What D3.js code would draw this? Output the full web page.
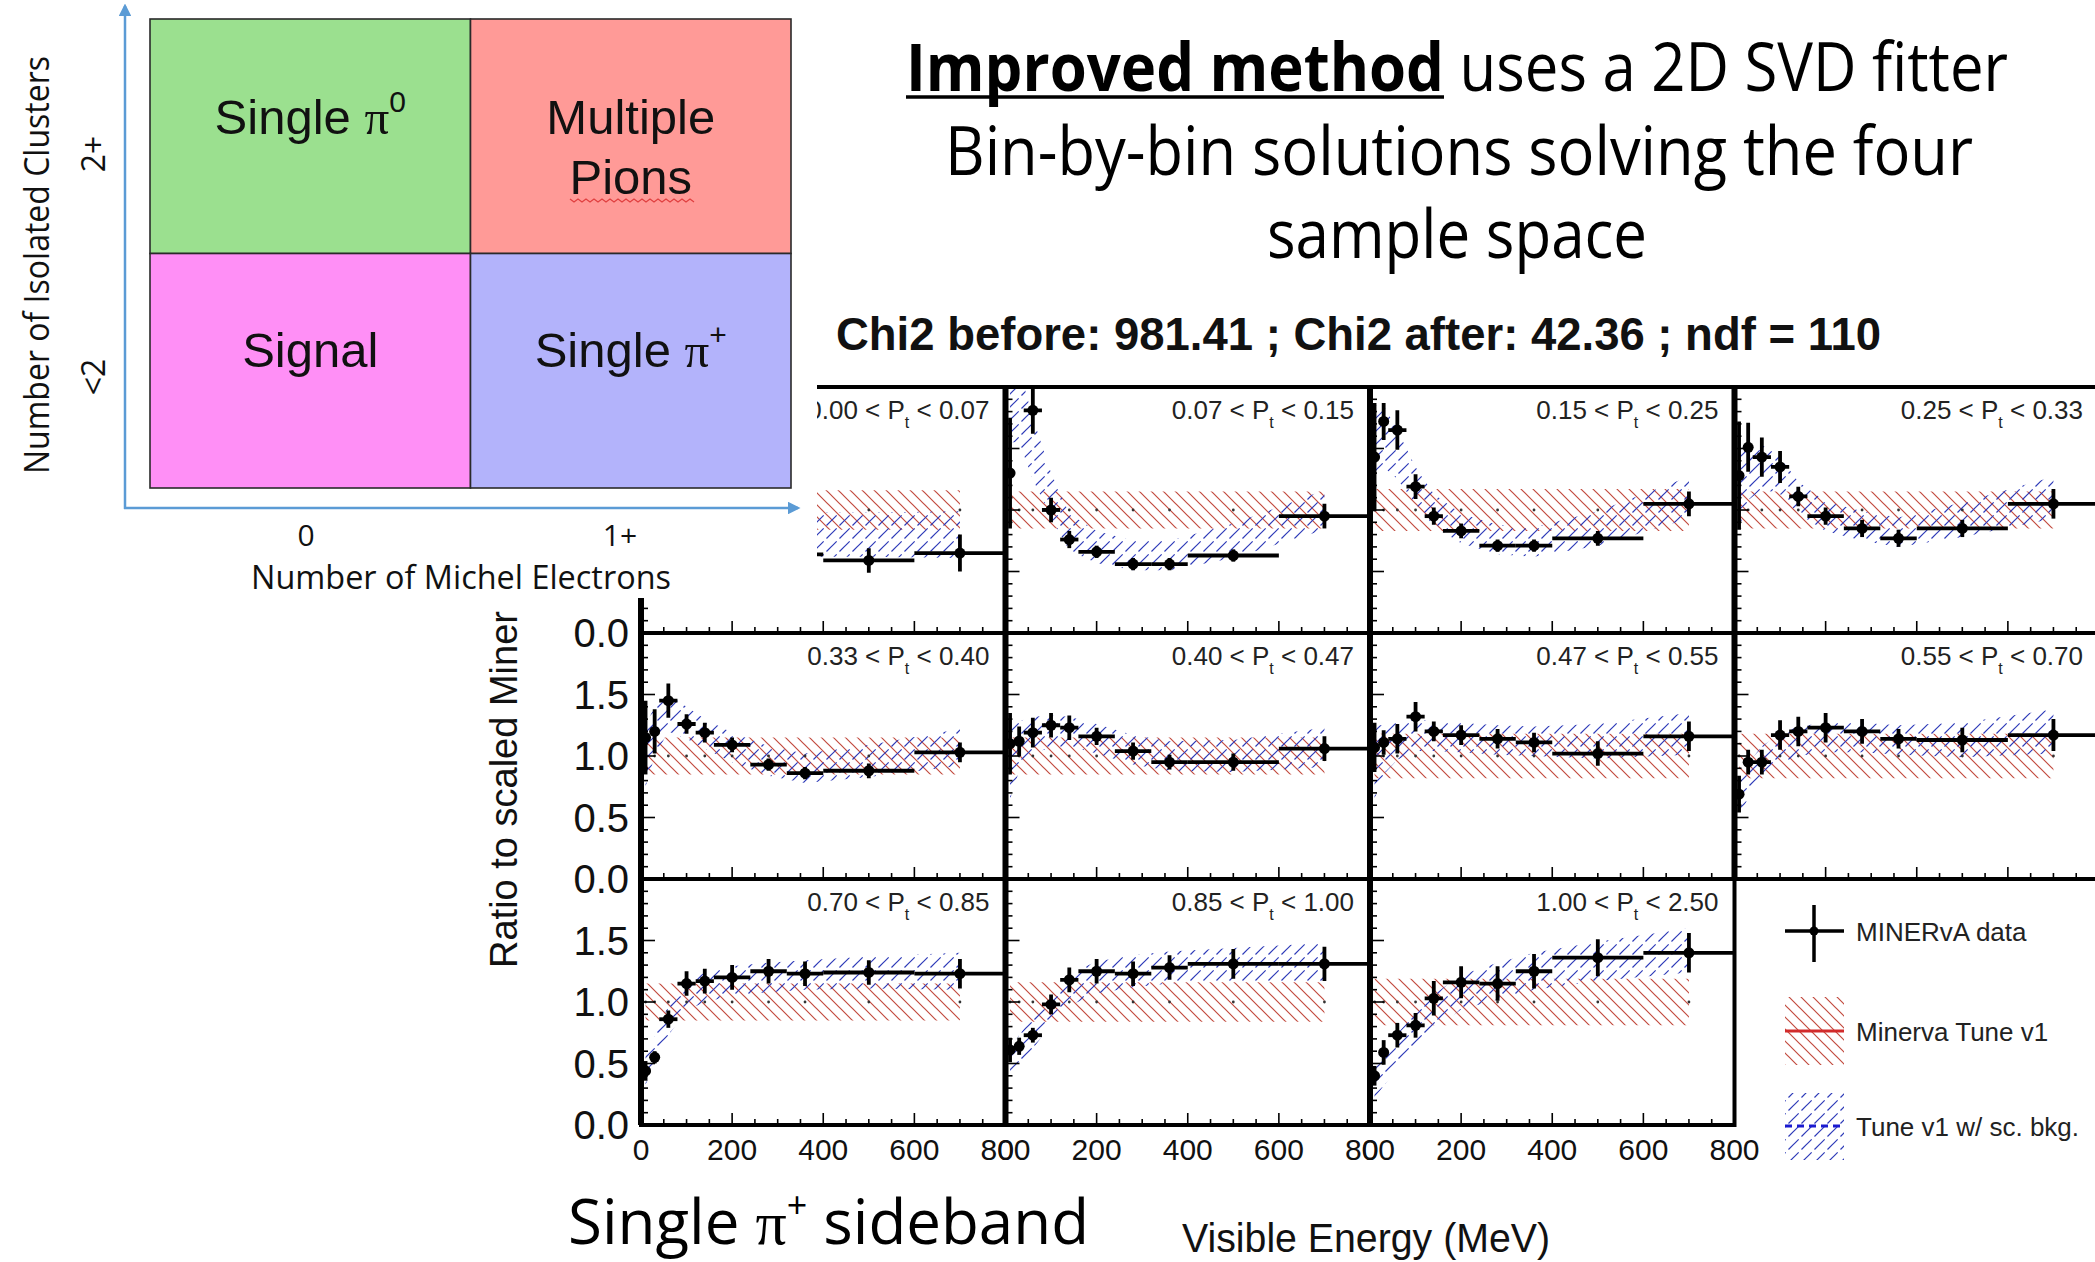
<!DOCTYPE html>
<html><head><meta charset="utf-8">
<script src="https://cdn.jsdelivr.net/npm/d3@7"></script>
<style>body{margin:0;background:#fff}svg{display:block}</style>
</head><body>
<svg id="c" width="2095" height="1262"></svg>
<script>
// ---------------- DATA ----------------
const energyBinEdges = [0,20,40,80,120,160,240,320,400,600,800];
const energyBinCenters = [10,30,60,100,140,200,280,360,500,700];
const ptBinEdges = ["0.00","0.07","0.15","0.25","0.33","0.40","0.47","0.55","0.70","0.85","1.00","2.50"];
const dataRatio = [
 [1.20,1.90,1.50,1.00,0.80,0.70,0.65,0.64,0.59,0.65],
 [1.30,2.60,1.81,1.00,0.76,0.66,0.56,0.56,0.63,0.95],
 [1.43,1.72,1.65,1.19,0.95,0.83,0.71,0.71,0.77,1.05],
 [1.28,1.51,1.43,1.35,1.11,0.95,0.85,0.77,0.85,1.05],
 [1.15,1.20,1.45,1.26,1.19,1.09,0.93,0.86,0.88,1.03],
 [1.10,1.12,1.19,1.25,1.23,1.16,1.04,0.95,0.95,1.06],
 [1.07,1.11,1.14,1.32,1.20,1.17,1.14,1.11,1.02,1.16],
 [0.69,0.95,0.95,1.17,1.20,1.23,1.20,1.14,1.13,1.17],
 [0.44,0.55,0.86,1.15,1.17,1.20,1.25,1.23,1.24,1.23],
 [0.61,0.64,0.73,0.98,1.18,1.25,1.23,1.28,1.31,1.31],
 [0.40,0.59,0.73,0.81,1.03,1.16,1.15,1.25,1.36,1.40]
];
const dataError = [
 [0.40,0.30,0.20,0.10,0.08,0.06,0.06,0.06,0.10,0.15],
 [0.45,0.30,0.19,0.10,0.07,0.05,0.05,0.05,0.05,0.10],
 [0.44,0.15,0.16,0.10,0.07,0.06,0.05,0.05,0.06,0.10],
 [0.44,0.20,0.16,0.13,0.08,0.07,0.07,0.07,0.07,0.12],
 [0.30,0.18,0.14,0.08,0.08,0.06,0.05,0.05,0.06,0.08],
 [0.25,0.12,0.12,0.10,0.10,0.07,0.07,0.06,0.07,0.10],
 [0.20,0.10,0.12,0.12,0.08,0.08,0.08,0.08,0.10,0.12],
 [0.15,0.10,0.10,0.12,0.12,0.12,0.10,0.08,0.10,0.13],
 [0.08,0.05,0.07,0.10,0.10,0.10,0.10,0.10,0.10,0.12],
 [0.10,0.07,0.06,0.08,0.10,0.10,0.10,0.10,0.12,0.14],
 [0.08,0.10,0.10,0.10,0.14,0.13,0.14,0.14,0.15,0.16]
];
const scBkgRatio = [
 [1.30,1.60,1.40,1.05,0.88,0.82,0.80,0.80,0.80,0.80],
 [1.90,1.85,1.50,1.12,0.82,0.70,0.63,0.63,0.75,1.00],
 [1.55,1.60,1.45,1.20,1.00,0.85,0.76,0.74,0.85,1.10],
 [1.15,1.30,1.35,1.28,1.10,0.95,0.87,0.82,0.92,1.10],
 [1.00,1.20,1.35,1.27,1.18,1.07,0.96,0.90,0.96,1.07],
 [0.95,1.08,1.17,1.20,1.20,1.14,1.05,1.00,1.00,1.07],
 [0.95,1.05,1.12,1.17,1.16,1.15,1.13,1.12,1.12,1.18],
 [0.65,0.80,0.95,1.06,1.12,1.15,1.15,1.13,1.13,1.20],
 [0.45,0.60,0.85,1.05,1.12,1.17,1.20,1.22,1.24,1.25],
 [0.50,0.60,0.75,0.95,1.10,1.20,1.25,1.28,1.30,1.32],
 [0.35,0.45,0.60,0.78,0.92,1.08,1.17,1.25,1.33,1.42]
];
const scBkgError = [
 [0.30,0.25,0.20,0.18,0.18,0.18,0.18,0.18,0.18,0.19],
 [0.35,0.30,0.25,0.18,0.15,0.13,0.12,0.12,0.14,0.16],
 [0.30,0.25,0.20,0.15,0.13,0.12,0.12,0.12,0.14,0.17],
 [0.30,0.22,0.18,0.15,0.13,0.12,0.12,0.12,0.14,0.17],
 [0.25,0.20,0.15,0.13,0.12,0.12,0.12,0.12,0.13,0.15],
 [0.30,0.20,0.15,0.13,0.12,0.12,0.12,0.12,0.13,0.16],
 [0.30,0.20,0.15,0.13,0.12,0.12,0.12,0.12,0.14,0.17],
 [0.15,0.14,0.13,0.12,0.12,0.12,0.12,0.12,0.14,0.18],
 [0.12,0.12,0.12,0.12,0.12,0.12,0.12,0.12,0.13,0.15],
 [0.13,0.13,0.13,0.13,0.13,0.13,0.13,0.13,0.14,0.16],
 [0.13,0.13,0.14,0.14,0.14,0.14,0.15,0.15,0.16,0.18]
];
const tuneError = [0.16,0.15,0.17,0.15,0.15,0.15,0.18,0.18,0.15,0.16,0.19];
const xTickValues = [0,200,400,600,800];
const yTickValues = [0,0.5,1.0,1.5];
const legendLabels = ["MINERvA data","Minerva Tune v1","Tune v1 w/ sc. bkg."];
const quadrantNames = [["Single ","π","0"],["Multiple","Pions"],["Signal"],["Single ","π","+"]];
const quadrantColors = ["#9be08f","#ff9a97","#ff8ff6","#b3b3fb"];
const michelLabels = ["0","1+"];
const clusterLabels = ["2+","<2"];
const titleLines = ["Improved method"," uses a 2D SVD fitter","Bin-by-bin solutions solving the four","sample space"];
const chi2Text = "Chi2 before: 981.41 ; Chi2 after: 42.36 ; ndf = 110";

// ---------------- LAYOUT ----------------
const svg = d3.select("#c");
const gridLeft = 641, gridTop = 387, cellW = 364.5, cellH = 246;
const defs = svg.append("defs");
function hatch(id, color, forward, dash, s){
  const p = defs.append("pattern").attr("id",id).attr("patternUnits","userSpaceOnUse")
    .attr("width",s).attr("height",s);
  const a = s+1;
  const d = forward ? `M-1,${a}L${a},-1M-1,1L1,-1M${s-1},${a}L${a},${s-1}`
                    : `M-1,-1L${a},${a}M-1,${s-1}L1,${a}M${s-1},-1L${a},1`;
  p.append("path").attr("d",d).attr("stroke",color).attr("stroke-width",1.2)
    .attr("fill","none").attr("stroke-dasharray",dash||null);
}
hatch("hRed","#c24a3e",false,null,12);
hatch("hBlue","#2d3ab8",true,"8,4",13);

const helv = "'Liberation Sans', Arial, sans-serif";
const cal = "'Open Sans','Noto Sans',sans-serif";

dataRatio.forEach((vals,p)=>{
  const col = p%4, row = Math.floor(p/4);
  const x0 = gridLeft + col*cellW, y0 = gridTop + row*cellH;
  const xs = d3.scaleLinear().domain([0,800]).range([x0,x0+cellW]);
  const ys = d3.scaleLinear().domain([0,2]).range([y0+cellH,y0]);
  const g = svg.append("g");
  defs.append("clipPath").attr("id","cp"+p).append("rect")
    .attr("x",x0).attr("y",y0).attr("width",cellW).attr("height",cellH);
  const gc = g.append("g").attr("clip-path","url(#cp"+p+")");
  // Tune v1 band
  gc.append("path").datum(vals)
    .attr("d", d3.area().x((d,i)=>xs(energyBinCenters[i]))
      .y0(()=>ys(1-tuneError[p])).y1(()=>ys(1+tuneError[p])))
    .attr("fill","url(#hRed)");
  // sc. bkg band
  gc.append("path").datum(scBkgRatio[p])
    .attr("d", d3.area().x((d,i)=>xs(energyBinCenters[i]))
      .y0((d,i)=>ys(d-scBkgError[p][i])).y1((d,i)=>ys(d+scBkgError[p][i])))
    .attr("fill","url(#hBlue)");
  // central tune line points
  gc.selectAll("circle.t").data(energyBinCenters).enter().append("circle")
    .attr("cx",d=>xs(d)).attr("cy",ys(1)).attr("r",1.4).attr("fill","#333");
  // data
  vals.forEach((v,i)=>{
    const e = dataError[p][i];
    gc.append("line").attr("x1",xs(energyBinEdges[i])).attr("x2",xs(energyBinEdges[i+1]))
      .attr("y1",ys(v)).attr("y2",ys(v)).attr("stroke","#000").attr("stroke-width",3.8);
    gc.append("line").attr("x1",xs(energyBinCenters[i])).attr("x2",xs(energyBinCenters[i]))
      .attr("y1",ys(v-e)).attr("y2",ys(v+e)).attr("stroke","#000").attr("stroke-width",3.8);
    gc.append("circle").attr("cx",xs(energyBinCenters[i])).attr("cy",ys(v)).attr("r",5.5).attr("fill","#000");
  });
  // ticks
  d3.range(0,801,50).forEach(t=>{
    const L = t%200===0 ? 12 : 6;
    g.append("line").attr("x1",xs(t)).attr("x2",xs(t)).attr("y1",ys(0)).attr("y2",ys(0)-L)
      .attr("stroke","#000").attr("stroke-width",1.6);
  });
  d3.range(0,21,1).forEach(k=>{
    const t = k/10, L = k%5===0 ? 14 : 7;
    g.append("line").attr("x1",xs(0)).attr("x2",xs(0)+L).attr("y1",ys(t)).attr("y2",ys(t))
      .attr("stroke","#000").attr("stroke-width",1.6);
  });
  // frame
  g.append("rect").attr("x",x0).attr("y",y0).attr("width",cellW).attr("height",cellH)
    .attr("fill","none").attr("stroke","#000").attr("stroke-width",4);
  g.append("line").attr("x1",x0).attr("x2",x0).attr("y1",y0).attr("y2",y0+cellH)
    .attr("stroke","#000").attr("stroke-width",6);
  // Pt label
  const tl = g.append("text").attr("x",x0+cellW-16).attr("y",y0+32).attr("text-anchor","end")
    .attr("font-family",helv).attr("font-size",26).attr("fill","#222");
  tl.append("tspan").text(ptBinEdges[p]+" < P");
  tl.append("tspan").attr("font-size",16).attr("dy",9).text("t");
  tl.append("tspan").attr("dy",-9).text(" < "+ptBinEdges[p+1]);
  // tick labels
  if(row===2){
    xTickValues.forEach(t=>{
      svg.append("text").attr("x",xs(t)).attr("y",1160).attr("text-anchor","middle")
        .attr("font-family",helv).attr("font-size",30).attr("fill","#111").text(t);
    });
  }
  if(col===0){
    yTickValues.forEach(t=>{
      if(row===0 && t>0) return; // covered by the sample-space diagram
      svg.append("text").attr("x",629).attr("y",ys(t)+14).attr("text-anchor","end")
        .attr("font-family",helv).attr("font-size",40).attr("fill","#111").text(d3.format(".1f")(t));
    });
  }
});

// axis titles
svg.append("text").attr("transform","translate(517,968) rotate(-90)")
  .attr("font-family",helv).attr("font-size",38).attr("fill","#111").text("Ratio to scaled Miner");
svg.append("text").attr("x",1182).attr("y",1252).attr("font-family",helv).attr("font-size",40)
  .attr("textLength",368).attr("lengthAdjust","spacingAndGlyphs").attr("fill","#111").text("Visible Energy (MeV)");

// legend
const lg = svg.append("g");
const lx0 = 1785, lx1 = 1844;
lg.append("line").attr("x1",lx0).attr("x2",lx1).attr("y1",931).attr("y2",931).attr("stroke","#000").attr("stroke-width",3.5);
lg.append("line").attr("x1",1814).attr("x2",1814).attr("y1",905).attr("y2",962).attr("stroke","#000").attr("stroke-width",3.5);
lg.append("circle").attr("cx",1814).attr("cy",931).attr("r",4.5).attr("fill","#000");
lg.append("rect").attr("x",lx0).attr("y",997).attr("width",lx1-lx0).attr("height",68).attr("fill","url(#hRed)");
lg.append("line").attr("x1",lx0).attr("x2",lx1).attr("y1",1031).attr("y2",1031).attr("stroke","#d22b2b").attr("stroke-width",3);
lg.append("rect").attr("x",lx0).attr("y",1093).attr("width",lx1-lx0).attr("height",67).attr("fill","url(#hBlue)");
lg.append("line").attr("x1",lx0).attr("x2",lx1).attr("y1",1126).attr("y2",1126).attr("stroke","#1a1ad0").attr("stroke-width",3).attr("stroke-dasharray","7,5");
[931,1031,1126].forEach((y,i)=>{
  lg.append("text").attr("x",1856).attr("y",y+10).attr("font-family",helv).attr("font-size",26)
    .attr("fill","#222").text(legendLabels[i]);
});

// bottom-left caption
const cap = svg.append("text").attr("x",568).attr("y",1244).attr("font-family",cal).attr("font-size",62)
  .attr("fill","#000").attr("textLength",521).attr("lengthAdjust","spacingAndGlyphs");
cap.append("tspan").text("Single ");
cap.append("tspan").attr("font-family","'Liberation Serif',serif").text("π");
cap.append("tspan").attr("font-size",36).attr("dy",-26).text("+");
cap.append("tspan").attr("dy",26).text(" sideband");

// title text
const t1 = svg.append("text").attr("x",906).attr("y",91).attr("font-family",cal).attr("font-size",67)
  .attr("textLength",1102).attr("lengthAdjust","spacingAndGlyphs").attr("fill","#000");
t1.append("tspan").attr("font-weight","bold").text(titleLines[0]);
t1.append("tspan").text(titleLines[1]);
const ext = t1.node().getExtentOfChar(titleLines[0].length-1);
svg.append("line").attr("x1",906).attr("x2",ext.x+ext.width).attr("y1",97).attr("y2",97)
  .attr("stroke","#000").attr("stroke-width",3.5);
svg.append("text").attr("x",945).attr("y",175).attr("font-family",cal).attr("font-size",67)
  .attr("textLength",1028).attr("lengthAdjust","spacingAndGlyphs").text(titleLines[2]);
svg.append("text").attr("x",1267).attr("y",258).attr("font-family",cal).attr("font-size",67)
  .attr("textLength",380).attr("lengthAdjust","spacingAndGlyphs").text(titleLines[3]);
svg.append("text").attr("x",836).attr("y",350).attr("font-family",helv).attr("font-weight","bold")
  .attr("font-size",46).attr("textLength",1045).attr("lengthAdjust","spacingAndGlyphs").attr("fill","#111").text(chi2Text);

// ---------------- 2D sample diagram ----------------
const dg = svg.append("g");
dg.append("rect").attr("x",0).attr("y",0).attr("width",817).attr("height",598).attr("fill","#fff");
const qx = d3.scaleBand().domain([0,1]).range([150,791]);
const qy = d3.scaleBand().domain([0,1]).range([19,488]);
quadrantColors.forEach((c,i)=>{
  const cx = i%2, cy = Math.floor(i/2);
  dg.append("rect").attr("x",qx(cx)).attr("y",qy(cy)).attr("width",qx.bandwidth()).attr("height",qy.bandwidth())
    .attr("fill",c).attr("stroke","#2a2a2a").attr("stroke-width",1.6);
});
function qText(x,y,parts){
  const t = dg.append("text").attr("x",x).attr("y",y).attr("text-anchor","middle")
    .attr("font-family",helv).attr("font-size",49).attr("fill","#111");
  t.append("tspan").text(parts[0]);
  t.append("tspan").attr("font-family","'Liberation Serif',serif").text(parts[1]);
  t.append("tspan").attr("font-size",30).attr("dy",-22).text(parts[2]);
}
qText(qx(0)+qx.bandwidth()/2, 134, quadrantNames[0]);
dg.append("text").attr("x",qx(1)+qx.bandwidth()/2).attr("y",134).attr("text-anchor","middle")
  .attr("font-family",helv).attr("font-size",49).attr("fill","#111").text(quadrantNames[1][0]);
dg.append("text").attr("x",qx(1)+qx.bandwidth()/2).attr("y",194).attr("text-anchor","middle")
  .attr("font-family",helv).attr("font-size",49).attr("fill","#111").text(quadrantNames[1][1]);
dg.append("path").attr("d", d3.line()(d3.range(0,32).map(k=>[570+k*4, 200+(k%2?2:-1)])))
  .attr("fill","none").attr("stroke","#e04040").attr("stroke-width",1.3);
dg.append("text").attr("x",qx(0)+qx.bandwidth()/2).attr("y",367).attr("text-anchor","middle")
  .attr("font-family",helv).attr("font-size",49).attr("fill","#111").text(quadrantNames[2][0]);
qText(qx(1)+qx.bandwidth()/2, 367, quadrantNames[3]);
// arrows
defs.append("marker").attr("id","arr").attr("viewBox","0 0 10 10").attr("refX",8).attr("refY",5)
  .attr("markerWidth",5).attr("markerHeight",5).attr("orient","auto")
  .append("path").attr("d","M0,0L10,5L0,10z").attr("fill","#5b9bd5");
dg.append("line").attr("x1",125).attr("y1",509).attr("x2",125).attr("y2",6)
  .attr("stroke","#5b9bd5").attr("stroke-width",2.5).attr("marker-end","url(#arr)");
dg.append("line").attr("x1",124).attr("y1",508).attr("x2",798).attr("y2",508)
  .attr("stroke","#5b9bd5").attr("stroke-width",2.5).attr("marker-end","url(#arr)");
michelLabels.forEach((l,i)=>{
  dg.append("text").attr("x",[306,620][i]).attr("y",546).attr("text-anchor","middle")
    .attr("font-family",cal).attr("font-size",30).attr("fill","#111").text(l);
});
dg.append("text").attr("x",461).attr("y",589).attr("text-anchor","middle").attr("font-family",cal)
  .attr("font-size",32).attr("textLength",420).attr("lengthAdjust","spacingAndGlyphs").attr("fill","#111")
  .text("Number of Michel Electrons");
clusterLabels.forEach((l,i)=>{
  dg.append("text").attr("transform",`translate(105,${[154,377][i]}) rotate(-90)`).attr("text-anchor","middle")
    .attr("font-family",cal).attr("font-size",32).attr("fill","#111").text(l);
});
dg.append("text").attr("transform","translate(49,265) rotate(-90)").attr("text-anchor","middle")
  .attr("font-family",cal).attr("font-size",34).attr("textLength",418).attr("lengthAdjust","spacingAndGlyphs")
  .attr("fill","#111").text("Number of Isolated Clusters");
</script>
</body></html>
